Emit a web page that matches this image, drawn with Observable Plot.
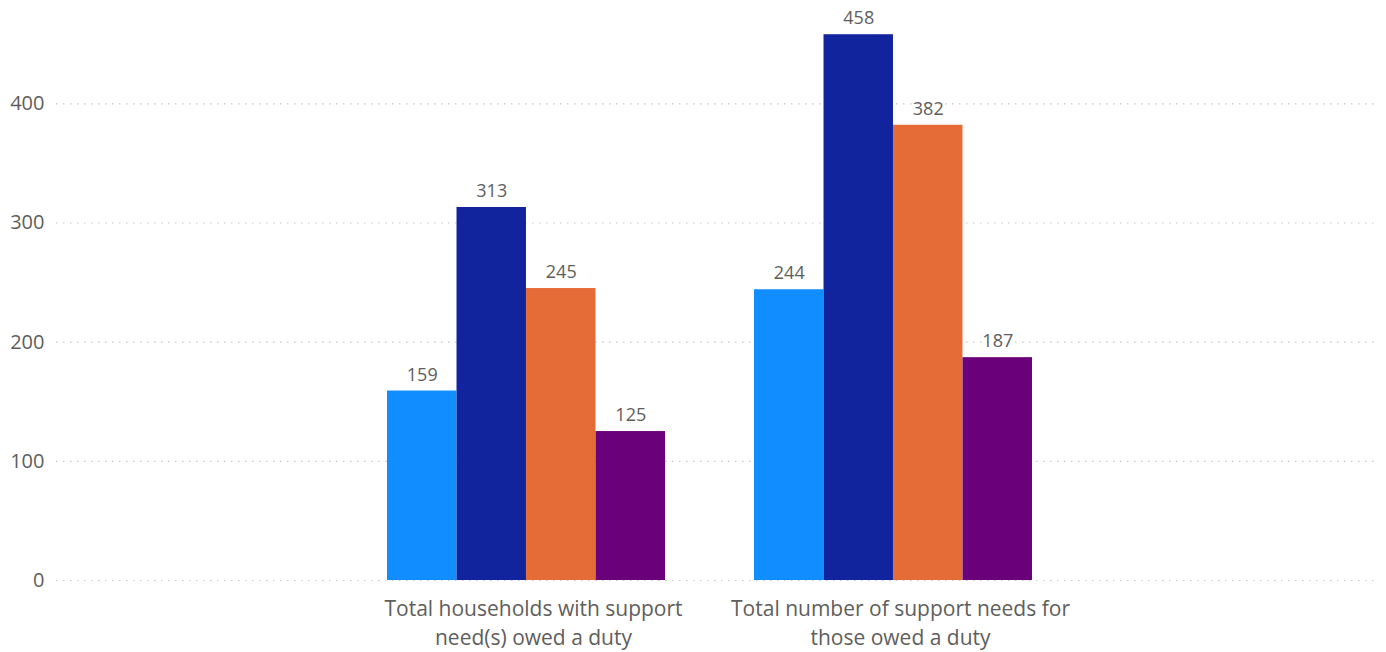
<!DOCTYPE html>
<html>
<head>
<meta charset="utf-8">
<script src="https://cdn.jsdelivr.net/npm/d3@7"></script>
<script src="https://cdn.jsdelivr.net/npm/@observablehq/plot@0.6"></script>
<style>
  html, body { margin: 0; padding: 0; background: #fff; }
  #chart svg { display: block; }
</style>
</head>
<body>
<div id="chart"></div>
<script>
// ---- Data ----
const categories = [
  "Total households with support need(s) owed a duty",
  "Total number of support needs for those owed a duty"
];
const categoryLabels = [
  "Total households with support\nneed(s) owed a duty",
  "Total number of support needs for\nthose owed a duty"
];
const seriesNames = ["Series 1", "Series 2", "Series 3", "Series 4"];
const seriesColors = ["#118DFF", "#12239E", "#E66C37", "#6B007B"];
const series1 = [159, 244];
const series2 = [313, 458];
const series3 = [245, 382];
const series4 = [125, 187];
const yTicks = [0, 100, 200, 300, 400];

const seriesValues = [series1, series2, series3, series4];
const data = [];
seriesValues.forEach((vals, s) => {
  vals.forEach((v, c) => data.push({cat: categories[c], s, series: seriesNames[s], value: v}));
});
const catRows = categories.map((c, i) => ({cat: c, label: categoryLabels[i]}));

// ---- Layout ----
const W = 1386, H = 652;
const marginLeft = 56, marginRight = 8;
const paddingInner = 0.2425, paddingOuter = 0.922;
const step = (W - marginLeft - marginRight) / (categories.length - paddingInner + 2 * paddingOuter);
const bandwidth = step * (1 - paddingInner);
const q = bandwidth / seriesNames.length;

const marks = [
  Plot.ruleY(yTicks, {stroke: "#c8c8c8", strokeWidth: 1.2, strokeDasharray: "1.5,5.5"})
];
seriesNames.forEach((name, i) => {
  const sub = data.filter(d => d.s === i);
  marks.push(Plot.barY(sub, {
    x: "cat", y: "value", fill: seriesColors[i],
    insetLeft: i * q, insetRight: (seriesNames.length - 1 - i) * q
  }));
  marks.push(Plot.text(sub, {
    x: "cat", y: "value", text: d => String(d.value),
    dx: (i - (seriesNames.length - 1) / 2) * q, dy: -16,
    fontSize: 18, fill: "#605E5C"
  }));
});
marks.push(Plot.text(catRows, {
  x: "cat", text: "label", frameAnchor: "bottom", lineAnchor: "top",
  dx: 7, dy: 15, lineHeight: 1.37, fontSize: 21, fill: "#605E5C"
}));

const chart = Plot.plot({
  width: W,
  height: H,
  marginLeft, marginRight,
  marginTop: 8,
  marginBottom: H - 580,
  style: {fontFamily: "'Segoe UI', 'Open Sans', sans-serif", fontSize: "20px", color: "#605E5C", background: "#fff"},
  x: {
    domain: categories, paddingInner, paddingOuter, align: 0.489,
    axis: null
  },
  y: {
    domain: [0, 480], ticks: yTicks, tickSize: 0, tickPadding: 12, label: null
  },
  marks
});
document.getElementById("chart").appendChild(chart);
</script>
</body>
</html>
